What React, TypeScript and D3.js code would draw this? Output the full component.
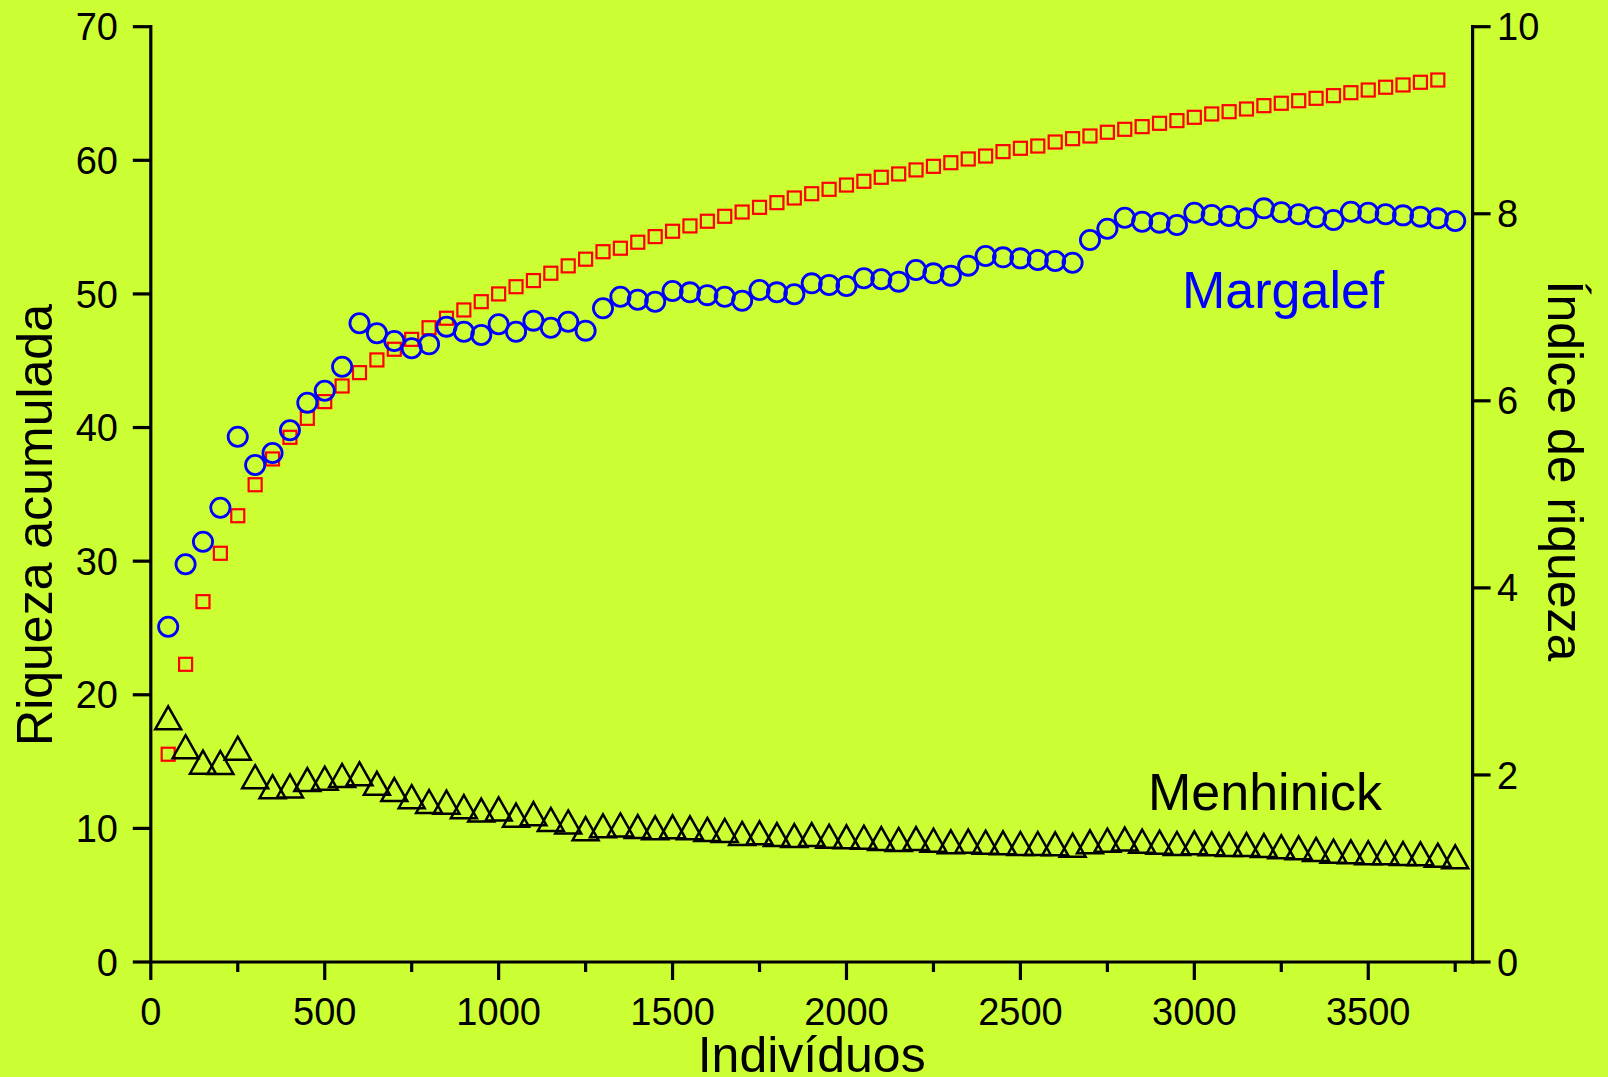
import React from 'react';
import * as d3 from 'd3';

const individuos = [
  50, 100, 150, 200, 250, 300, 350, 400, 450, 500, 550, 600, 650, 700, 750, 800, 850, 900, 950, 1000,
  1050, 1100, 1150, 1200, 1250, 1300, 1350, 1400, 1450, 1500, 1550, 1600, 1650, 1700, 1750, 1800, 1850, 1900, 1950, 2000,
  2050, 2100, 2150, 2200, 2250, 2300, 2350, 2400, 2450, 2500, 2550, 2600, 2650, 2700, 2750, 2800, 2850, 2900, 2950, 3000,
  3050, 3100, 3150, 3200, 3250, 3300, 3350, 3400, 3450, 3500, 3550, 3600, 3650, 3700, 3750,
];

// Riqueza acumulada (left axis) — 50 .. 3700
const riqueza = [
  15.55, 22.28, 26.97, 30.59, 33.4, 35.72, 37.65, 39.27, 40.69, 41.94, 43.11, 44.11, 45.06, 45.86, 46.6, 47.47, 48.18, 48.8, 49.42, 50.0,
  50.54, 51.0, 51.55, 52.1, 52.6, 53.16, 53.42, 53.87, 54.29, 54.69, 55.09, 55.44, 55.81, 56.13, 56.48, 56.83, 57.18, 57.5, 57.83, 58.15,
  58.43, 58.73, 58.98, 59.28, 59.55, 59.82, 60.1, 60.32, 60.65, 60.9, 61.07, 61.37, 61.62, 61.82, 62.1, 62.32, 62.52, 62.77, 62.97, 63.22,
  63.47, 63.64, 63.84, 64.09, 64.27, 64.46, 64.64, 64.84, 65.06, 65.26, 65.47, 65.64, 65.84, 66.01,
];

// Índice de Margalef (right axis)
const margalef = [
  3.585, 4.252, 4.494, 4.857, 5.616, 5.314, 5.442, 5.685, 5.98, 6.108, 6.365, 6.829, 6.722, 6.64, 6.562, 6.604, 6.793, 6.739, 6.704, 6.818,
  6.739, 6.857, 6.782, 6.846, 6.75, 6.989, 7.113, 7.08, 7.06, 7.174, 7.16, 7.13, 7.113, 7.07, 7.185, 7.16, 7.139, 7.256, 7.238, 7.228,
  7.31, 7.299, 7.274, 7.399, 7.363, 7.338, 7.445, 7.548, 7.534, 7.523, 7.506, 7.495, 7.477, 7.72, 7.84, 7.958, 7.915, 7.905, 7.88, 8.011,
  7.987, 7.976, 7.951, 8.058, 8.016, 7.994, 7.962, 7.933, 8.022, 8.011, 7.994, 7.983, 7.969, 7.951, 7.923,
];

// Índice de Menhinick (right axis)
const menhinick = [
  2.611, 2.302, 2.137, 2.133, 2.286, 1.981, 1.874, 1.882, 1.951, 1.965, 1.994, 2.012, 1.911, 1.844, 1.767, 1.716, 1.709, 1.661, 1.625, 1.637,
  1.57, 1.586, 1.524, 1.497, 1.426, 1.456, 1.465, 1.448, 1.435, 1.445, 1.435, 1.417, 1.406, 1.374, 1.381, 1.363, 1.352, 1.363, 1.345, 1.339,
  1.334, 1.32, 1.31, 1.32, 1.302, 1.285, 1.292, 1.281, 1.274, 1.267, 1.267, 1.264, 1.249, 1.285, 1.302, 1.314, 1.292, 1.281, 1.267, 1.274,
  1.264, 1.256, 1.256, 1.245, 1.231, 1.221, 1.203, 1.185, 1.178, 1.168, 1.168, 1.16, 1.157, 1.142, 1.125,
];

const xTicks = [0, 500, 1000, 1500, 2000, 2500, 3000, 3500];
const xMinorTicks = [250, 750, 1250, 1750, 2250, 2750, 3250, 3750];
const yLeftTicks = [0, 10, 20, 30, 40, 50, 60, 70];
const yRightTicks = [0, 2, 4, 6, 8, 10];

const BG = '#ccff33';
const FONT = '"Liberation Sans", Arial, Helvetica, sans-serif';

export default function App() {
  const W = 1608;
  const H = 1077;
  const left = 150.8;
  const right = 1472.6;
  const top = 26.7;
  const bottom = 962;

  const x = d3.scaleLinear().domain([0, 3800]).range([left, right]);
  const yL = d3.scaleLinear().domain([0, 70]).range([bottom, top]);
  const yR = d3.scaleLinear().domain([0, 10]).range([bottom, top]);

  const tickFs = 38;
  const major = 18;
  const minor = 10;
  const axisW = 3.2;

  const sq = 13;
  const triPath = 'M0,-11.5L13,11.5L-13,11.5Z';

  return (
    <svg
      width={W}
      height={H}
      viewBox={`0 0 ${W} ${H}`}
      style={{ position: 'absolute', left: 0, top: 0, display: 'block' }}
      fontFamily={FONT}
    >
      <rect x={0} y={0} width={W} height={H} fill={BG} />

      {/* Riqueza acumulada: red squares */}
      <g fill="none" stroke="#ff0000" strokeWidth={2.2}>
        {riqueza.map((v, i) => (
          <rect key={i} x={x(individuos[i]) - sq / 2} y={yL(v) - sq / 2} width={sq} height={sq} />
        ))}
      </g>

      {/* Margalef: blue circles */}
      <g fill="none" stroke="#0000ff" strokeWidth={2.8}>
        {margalef.map((v, i) => (
          <circle key={i} cx={x(individuos[i])} cy={yR(v)} r={9.6} />
        ))}
      </g>

      {/* Menhinick: black triangles */}
      <g fill="none" stroke="#000000" strokeWidth={2.5} strokeLinejoin="miter">
        {menhinick.map((v, i) => (
          <path key={i} d={triPath} transform={`translate(${x(individuos[i])},${yR(v)})`} />
        ))}
      </g>

      {/* Axes lines */}
      <g stroke="#000" strokeWidth={axisW} strokeLinecap="square">
        <line x1={left} y1={top} x2={left} y2={bottom} />
        <line x1={right} y1={top} x2={right} y2={bottom} />
        <line x1={left} y1={bottom} x2={right} y2={bottom} />
      </g>

      {/* Ticks */}
      <g stroke="#000" strokeWidth={axisW}>
        {xTicks.map((t) => (
          <line key={`xt${t}`} x1={x(t)} x2={x(t)} y1={bottom} y2={bottom + major} />
        ))}
        {xMinorTicks.map((t) => (
          <line key={`xm${t}`} x1={x(t)} x2={x(t)} y1={bottom} y2={bottom + minor} />
        ))}
        {yLeftTicks.map((t) => (
          <line key={`yl${t}`} x1={left - major} x2={left} y1={yL(t)} y2={yL(t)} />
        ))}
        {yRightTicks.map((t) => (
          <line key={`yr${t}`} x1={right} x2={right + major} y1={yR(t)} y2={yR(t)} />
        ))}
      </g>

      {/* Tick labels */}
      <g fontSize={tickFs} fill="#000">
        {xTicks.map((t) => (
          <text key={`xl${t}`} x={x(t)} y={1025} textAnchor="middle">
            {t}
          </text>
        ))}
        {yLeftTicks.map((t) => (
          <text key={`yll${t}`} x={118} y={yL(t) + tickFs * 0.358} textAnchor="end">
            {t}
          </text>
        ))}
        {yRightTicks.map((t) => (
          <text key={`yrl${t}`} x={1497} y={yR(t) + tickFs * 0.358} textAnchor="start">
            {t}
          </text>
        ))}
      </g>

      {/* Axis titles */}
      <text x={(left + right) / 2} y={1072} fontSize={50} textAnchor="middle" fill="#000">
        Indivíduos
      </text>
      <text transform="translate(52,525) rotate(-90)" fontSize={50} textAnchor="middle" fill="#000">
        Riqueza acumulada
      </text>
      <text transform="translate(1548,471) rotate(90)" fontSize={50} textAnchor="middle" fill="#000">
        Índice de riqueza
      </text>

      {/* Series labels */}
      <text x={1182} y={308} fontSize={52} fill="#0000ff">
        Margalef
      </text>
      <text x={1148} y={810} fontSize={52} fill="#000">
        Menhinick
      </text>
    </svg>
  );
}
